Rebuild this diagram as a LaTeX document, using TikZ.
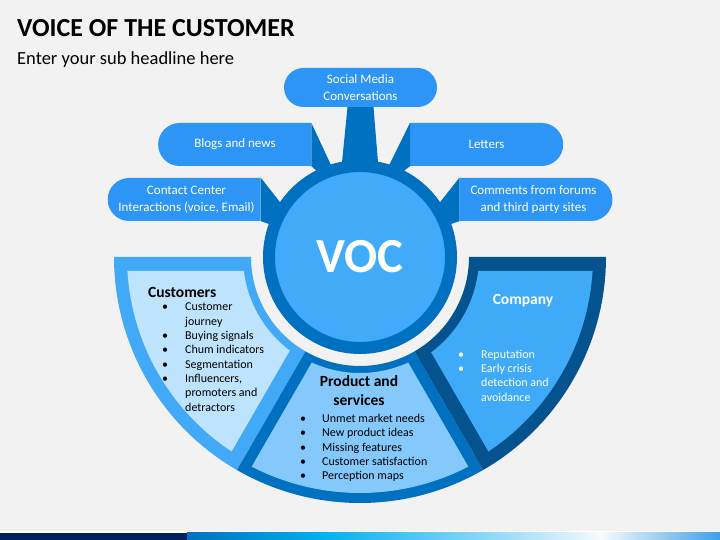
\documentclass[tikz,border=0pt]{standalone}
\usepackage{fontspec}
\setmainfont{Carlito}
\usetikzlibrary{shapes.misc,calc}
\definecolor{bg}{HTML}{F2F2F2}
\definecolor{boxblue}{HTML}{2D95F5}
\definecolor{ringdark}{HTML}{0070C0}
\definecolor{vocfill}{HTML}{41ABF9}
\definecolor{custband}{HTML}{41A9F5}
\definecolor{custfill}{HTML}{BEE3FC}
\definecolor{prodband}{HTML}{0070C0}
\definecolor{prodfill}{HTML}{85C8FB}
\definecolor{compband}{HTML}{04538F}
\definecolor{compfill}{HTML}{3FAAF8}
\definecolor{navy}{HTML}{002060}
\tikzset{cb/.style={rounded rectangle, fill=boxblue, text=white, minimum width=153pt, minimum height=43pt, inner sep=0pt, align=center, font=\fontsize{13}{16.5}\selectfont}}
\tikzset{hd/.style={inner sep=0pt, align=center, font=\fontsize{15.5}{19.5}\selectfont\bfseries}}
\tikzset{lst/.style={inner sep=0pt, anchor=base west, font=\fontsize{12}{14.3}\selectfont}}
\tikzset{spk/.style={fill=ringdark}}

\begin{document}
\begin{tikzpicture}[x=1pt,y=1pt]
                \useasboundingbox (0,0) rectangle (720,540);
                \fill[bg] (0,0) rectangle (720,540);
                % title
                \node[inner sep=0pt, anchor=base west, font=\fontsize{26}{30}\selectfont\bfseries] (title) at (17,503) {VOICE OF THE CUSTOMER};
                \node[inner sep=0pt, anchor=base west, font=\fontsize{18.5}{22}\selectfont] (sub) at (17,475) {Enter your sub headline here};
                \coordinate (C) at (360,283);
                % segments
                \begin{scope}[shift={(C)}]
                \fill[custband] (180:109pt) -- (180:246pt) arc[start angle=180, end angle=240, radius=246pt] -- (240:109pt) arc[start angle=240, end angle=180, radius=109pt] -- cycle;
                \fill[custfill] ({180+asin(14/233)}:233pt) arc[start angle={180+asin(14/233)}, end angle={240-asin(14/233)}, radius=233pt] -- ({240-asin(14/117)}:117pt) arc[start angle={240-asin(14/117)}, end angle={180+asin(14/117)}, radius=117pt] -- cycle;
                \fill[prodband] (240:109pt) -- (240:246pt) arc[start angle=240, end angle=300, radius=246pt] -- (300:109pt) arc[start angle=300, end angle=240, radius=109pt] -- cycle;
                \fill[prodfill] ({240+asin(11/236)}:236pt) arc[start angle={240+asin(11/236)}, end angle={300-asin(11/236)}, radius=236pt] -- ({300-asin(11/116)}:116pt) arc[start angle={300-asin(11/116)}, end angle={240+asin(11/116)}, radius=116pt] -- cycle;
                \fill[compband] (300:109pt) -- (300:246pt) arc[start angle=300, end angle=360, radius=246pt] -- (360:109pt) arc[start angle=360, end angle=300, radius=109pt] -- cycle;
                \fill[compfill] ({300+asin(14/233)}:233pt) arc[start angle={300+asin(14/233)}, end angle={360-asin(14/233)}, radius=233pt] -- ({360-asin(14/119)}:119pt) arc[start angle={360-asin(14/119)}, end angle={300+asin(14/119)}, radius=119pt] -- cycle;
                \end{scope}
                % callouts
                \node[cb, minimum height=39pt] (social) at (360.5,452.5) {Social Media\\Conversations};
                \node[cb, rounded rectangle east arc=none] (blogs) at (235,395.5) {Blogs and news};
                \node[cb, rounded rectangle west arc=none] (letters) at (486.5,395.5) {Letters};
                \node[cb, rounded rectangle east arc=none] (contact) at (186.5,340.5) {Contact Center\\Interactions (voice, Email)};
                \node[cb, rounded rectangle west arc=none] (comments) at (533.5,340.5) {Comments from forums\\and third party sites};
                % spikes
                \fill[spk] ([xshift=-13pt]social.south) -- ([xshift=13pt]social.south) -- ($(C)+(79:95pt)$) -- ($(C)+(101:95pt)$) -- cycle;
                \fill[spk] (blogs.north east) -- ($(C)+(107:90pt)$) -- ($(C)+(115:90pt)$) -- (blogs.south east) -- cycle;
                \fill[spk] (letters.north west) -- ($(C)+(73:90pt)$) -- ($(C)+(65:90pt)$) -- (letters.south west) -- cycle;
                \fill[spk] (contact.north east) -- ($(C)+(147:90pt)$) -- ($(C)+(160:90pt)$) -- (contact.south east) -- cycle;
                \fill[spk] (comments.north west) -- ($(C)+(33:90pt)$) -- ($(C)+(20:90pt)$) -- (comments.south west) -- cycle;
                % hub
                \node[circle, fill=vocfill, draw=ringdark, line width=12pt, minimum size=182pt, inner sep=0pt, text=white, font=\fontsize{49}{49}\selectfont\bfseries] (voc) at (C) {VOC};
                % headings and lists
                \node[hd, anchor=base west] (cust) at (148,242) {Customers};
                \node[lst] (custlist) at (162,229) {\begin{tabular}[t]{@{}p{23pt}@{}l@{}}
                  \textbullet & Customer\\ & journey\\ \textbullet & Buying signals\\ \textbullet & Chum indicators\\
                  \textbullet & Segmentation\\ \textbullet & Influencers,\\ & promoters and\\ & detractors\end{tabular}};
                \node[hd, anchor=base] (prod) at (359,134) {Product and\\services};
                \node[lst] (prodlist) at (300,117.3) {\begin{tabular}[t]{@{}p{22pt}@{}l@{}}
                  \textbullet & Unmet market needs\\ \textbullet & New product ideas\\ \textbullet & Missing features\\
                  \textbullet & Customer satisfaction\\ \textbullet & Perception maps\end{tabular}};
                \node[hd, anchor=base, text=white] (comp) at (523,235) {Company};
                \node[lst, text=white] (complist) at (458,181.7) {\begin{tabular}[t]{@{}p{23pt}@{}l@{}}
                  \textbullet & Reputation\\ \textbullet & Early crisis\\ & detection and\\ & avoidance\end{tabular}};
                % bottom bar
                \fill[white] (0,7) rectangle (720,8.5);
                \fill[navy] (0,0) rectangle (187,7);
                \shade[left color=ringdark, right color={rgb,255:red,0;green,176;blue,240}] (187,0) rectangle (321,7);
                \shade[left color={rgb,255:red,0;green,176;blue,240}, right color={rgb,255:red,157;green,220;blue,249}] (321,0) rectangle (505,7);
                \shade[left color={rgb,255:red,157;green,220;blue,249}, right color={rgb,255:red,248;green,250;blue,252}] (505,0) rectangle (601,7);
                \shade[left color={rgb,255:red,248;green,250;blue,252}, right color={rgb,255:red,61;green,160;blue,232}] (601,0) rectangle (720,7);
            \end{tikzpicture}
\end{document}
